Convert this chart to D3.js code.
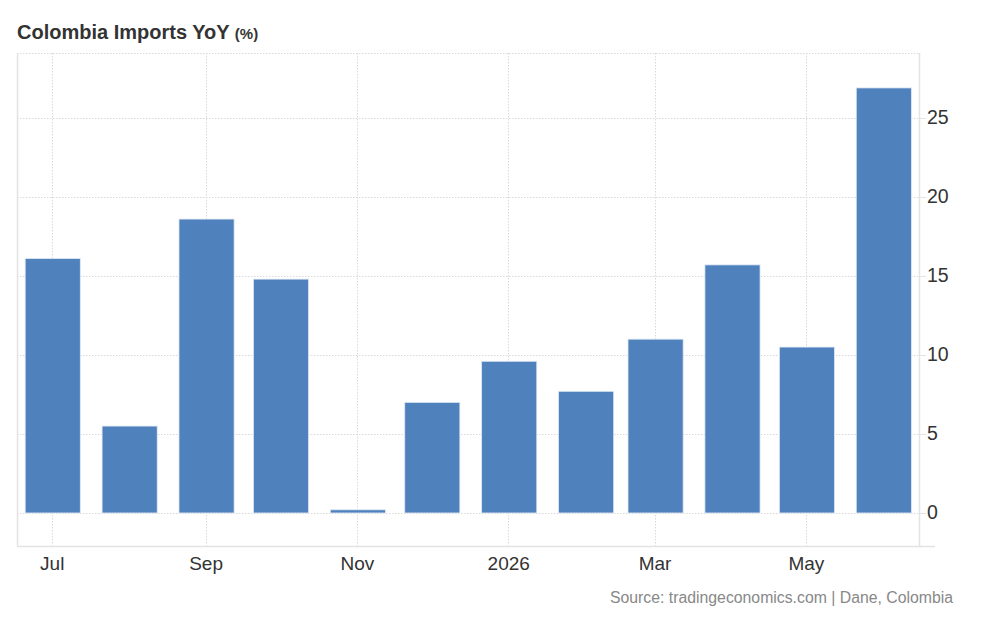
<!DOCTYPE html>
<html>
<head>
<meta charset="utf-8">
<script src="https://cdn.jsdelivr.net/npm/d3@7"></script>
<style>
  html, body { margin: 0; padding: 0; background: #fff; }
  svg { display: block; font-family: "Liberation Sans", Arial, Helvetica, sans-serif; }
</style>
</head>
<body>
<svg id="chart" width="997" height="626"></svg>
<script>
// ---- data ----
const months = ["2025-07","2025-08","2025-09","2025-10","2025-11","2025-12",
                "2026-01","2026-02","2026-03","2026-04","2026-05","2026-06"];
const values = [16.1, 5.5, 18.6, 14.8, 0.2, 7.0, 9.6, 7.7, 11.0, 15.7, 10.5, 26.9];
const xTickMonths = ["2025-07","2025-09","2025-11","2026-01","2026-03","2026-05"];
const yTicks = [0, 5, 10, 15, 20, 25];
const titleText = "Colombia Imports YoY";
const unitText = "(%)";
const sourceText = "Source: tradingeconomics.com | Dane, Colombia";

// ---- layout ----
const W = 997, H = 626;
const plot = { left: 17, right: 919, top: 53, bottom: 546 };
const parse = s => { const [y, m] = s.split("-").map(Number); return new Date(Date.UTC(y, m - 1, 1)); };
const monthNames = ["Jan","Feb","Mar","Apr","May","Jun","Jul","Aug","Sep","Oct","Nov","Dec"];

const svg = d3.select("#chart");
svg.append("rect").attr("width", W).attr("height", H).attr("fill", "#fff");

const x = d3.scaleUtc()
  .domain([new Date(Date.UTC(2025, 5, 17)), new Date(Date.UTC(2026, 5, 15, 14))])
  .range([plot.left, plot.right]);
const y = d3.scaleLinear()
  .domain([-2.09, 29.11])
  .range([plot.bottom, plot.top]);

const gridColor = "#d9d9d9";
const axisColor = "#e3e3e3";

// horizontal grid lines
svg.append("g").selectAll("line").data(yTicks).join("line")
  .attr("x1", plot.left).attr("x2", plot.right)
  .attr("y1", d => Math.round(y(d)) + 0.5).attr("y2", d => Math.round(y(d)) + 0.5)
  .attr("stroke", gridColor).attr("stroke-width", 1).attr("stroke-dasharray", "1.5,1.5");
// top dotted border
svg.append("line")
  .attr("x1", plot.left).attr("x2", plot.right)
  .attr("y1", plot.top + 0.5).attr("y2", plot.top + 0.5)
  .attr("stroke", gridColor).attr("stroke-dasharray", "1.5,1.5");

// vertical grid lines
svg.append("g").selectAll("line").data(xTickMonths).join("line")
  .attr("x1", d => Math.round(x(parse(d))) + 0.5).attr("x2", d => Math.round(x(parse(d))) + 0.5)
  .attr("y1", plot.top).attr("y2", plot.bottom)
  .attr("stroke", gridColor).attr("stroke-width", 1).attr("stroke-dasharray", "1.5,1.5");

// bars
const monthPx = x(new Date(Date.UTC(2025, 6, 1) + 30.44 * 864e5)) - x(new Date(Date.UTC(2025, 6, 1)));
const barW = monthPx * 0.73;
const barShift = 1;
svg.append("g").selectAll("rect").data(months.map((m, i) => ({ m: parse(m), v: values[i] }))).join("rect")
  .attr("x", d => x(d.m) - barW / 2 + barShift)
  .attr("width", barW)
  .attr("y", d => y(Math.max(0, d.v)))
  .attr("height", d => Math.abs(y(d.v) - y(0)))
  .attr("fill", "#4f81bd")
  .attr("stroke", "#dfe8f3")
  .attr("stroke-width", 0.8);

// axis frame lines
svg.append("line").attr("x1", plot.left + 0.5).attr("x2", plot.left + 0.5)
  .attr("y1", plot.top).attr("y2", plot.bottom).attr("stroke", axisColor).attr("stroke-width", 1.5);
svg.append("line").attr("x1", plot.left).attr("x2", 935)
  .attr("y1", plot.bottom + 0.5).attr("y2", plot.bottom + 0.5).attr("stroke", axisColor).attr("stroke-width", 1.5);
svg.append("line").attr("x1", plot.right + 0.5).attr("x2", plot.right + 0.5)
  .attr("y1", plot.top).attr("y2", plot.bottom).attr("stroke", axisColor).attr("stroke-width", 1.5);

// y axis (right)
const yAxis = d3.axisRight(y).tickValues(yTicks).tickSize(7).tickPadding(1).tickFormat(d3.format("d"));
const gy = svg.append("g").attr("transform", `translate(${plot.right},0)`).call(yAxis);
gy.select(".domain").remove();
gy.selectAll(".tick line").attr("stroke", axisColor);
gy.selectAll(".tick text")
  .attr("x", 8)
  .attr("dy", "0.28em")
  .attr("fill", "#333")
  .style("font-size", "19.5px")
  .style("font-family", '"Liberation Sans", Arial, sans-serif');

// x axis (bottom)
const xAxis = d3.axisBottom(x)
  .tickValues(xTickMonths.map(parse))
  .tickSize(0)
  .tickFormat(d => d.getUTCMonth() === 0 ? String(d.getUTCFullYear()) : monthNames[d.getUTCMonth()]);
const gx = svg.append("g").attr("transform", `translate(0,${plot.bottom})`).call(xAxis);
gx.select(".domain").remove();
gx.selectAll(".tick text")
  .attr("y", 24)
  .attr("dy", 0)
  .attr("fill", "#333")
  .style("font-size", "19px")
  .style("font-family", '"Liberation Sans", Arial, sans-serif');

// title
const title = svg.append("text").attr("x", 17).attr("y", 39)
  .attr("fill", "#333").style("font-weight", "bold");
title.append("tspan").style("font-size", "20px").text(titleText + " ");
title.append("tspan").style("font-size", "15px").text(unitText);

// source
svg.append("text").attr("x", 953).attr("y", 603)
  .attr("text-anchor", "end")
  .attr("fill", "#888")
  .style("font-size", "15.8px")
  .text(sourceText);
</script>
</body>
</html>
